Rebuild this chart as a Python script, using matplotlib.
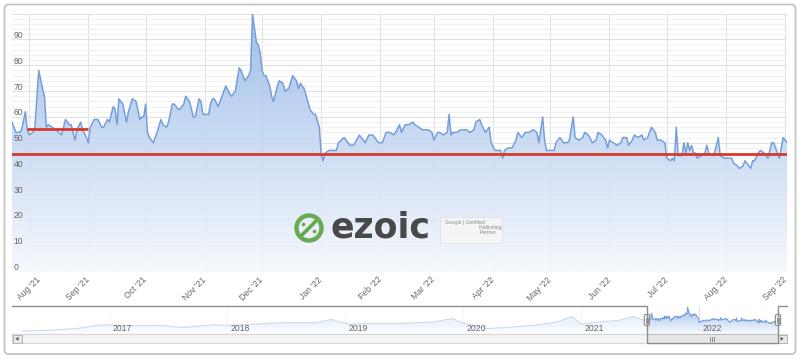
import matplotlib
matplotlib.use("Agg")
import matplotlib.pyplot as plt
import matplotlib.dates as mdates
import matplotlib.transforms as mtransforms
from matplotlib.patches import FancyBboxPatch, Rectangle, Circle, Polygon
from matplotlib.lines import Line2D
import numpy as np
import pandas as pd

# ---------------- data ----------------
dates_2021 = [
    "2021-07-23", "2021-07-25", "2021-07-27", "2021-07-28", "2021-07-30", "2021-07-31",
    "2021-08-01", "2021-08-03", "2021-08-04", "2021-08-06", "2021-08-08", "2021-08-09",
    "2021-08-10", "2021-08-11", "2021-08-13", "2021-08-15", "2021-08-18", "2021-08-20",
    "2021-08-22", "2021-08-23", "2021-08-25", "2021-08-26", "2021-08-28", "2021-08-29",
    "2021-08-31", "2021-09-01", "2021-09-02", "2021-09-04", "2021-09-06", "2021-09-08",
    "2021-09-09", "2021-09-11", "2021-09-12", "2021-09-14", "2021-09-15", "2021-09-16",
    "2021-09-17", "2021-09-19", "2021-09-21", "2021-09-22", "2021-09-24", "2021-09-26",
    "2021-09-28", "2021-09-29", "2021-09-30", "2021-10-01", "2021-10-02", "2021-10-03",
    "2021-10-05", "2021-10-07", "2021-10-09", "2021-10-10", "2021-10-12", "2021-10-13",
    "2021-10-15", "2021-10-16", "2021-10-18", "2021-10-19", "2021-10-21", "2021-10-22",
    "2021-10-24", "2021-10-26", "2021-10-27", "2021-10-29", "2021-10-30", "2021-10-31",
    "2021-11-02", "2021-11-03", "2021-11-04", "2021-11-05", "2021-11-06", "2021-11-08",
    "2021-11-09", "2021-11-12", "2021-11-14", "2021-11-15", "2021-11-17", "2021-11-19",
    "2021-11-20", "2021-11-22", "2021-11-24", "2021-11-25", "2021-11-26", "2021-11-28",
    "2021-11-29", "2021-11-30", "2021-12-01", "2021-12-02", "2021-12-03", "2021-12-05",
    "2021-12-06", "2021-12-07", "2021-12-09", "2021-12-10", "2021-12-12", "2021-12-13",
    "2021-12-15", "2021-12-17", "2021-12-19", "2021-12-20", "2021-12-21", "2021-12-23",
    "2021-12-25", "2021-12-26", "2021-12-28", "2021-12-29", "2021-12-31",
]
values_2021 = [
    58, 54, 54, 55, 62, 55,
    53, 54, 56, 78, 71, 68,
    56, 57, 56, 55, 53, 59,
    57, 57, 51, 55, 58, 55,
    52, 50, 56, 59, 59, 56,
    56, 59, 58, 64, 63, 57,
    67, 65, 58, 62, 67, 66,
    59, 60, 60, 65, 54, 52,
    50, 54, 59, 57, 56, 58,
    65, 65, 63, 63, 65, 68,
    66, 60, 60, 67, 66, 61,
    61, 61, 65, 67, 67, 64,
    66, 72, 69, 68, 70, 79,
    78, 74, 76, 78, 100, 89,
    88, 85, 78, 76, 76, 72,
    68, 66, 72, 74, 73, 70,
    71, 76, 74, 71, 73, 71,
    66, 63, 61, 61, 56,
]
dates_2022 = [
    "2022-01-01", "2022-01-02", "2022-01-03", "2022-01-05", "2022-01-07", "2022-01-09",
    "2022-01-10", "2022-01-13", "2022-01-15", "2022-01-16", "2022-01-18", "2022-01-21",
    "2022-01-22", "2022-01-24", "2022-01-26", "2022-01-28", "2022-01-29", "2022-01-31",
    "2022-02-02", "2022-02-04", "2022-02-06", "2022-02-08", "2022-02-09", "2022-02-11",
    "2022-02-12", "2022-02-14", "2022-02-16", "2022-02-18", "2022-02-19", "2022-02-21",
    "2022-02-23", "2022-02-25", "2022-02-26", "2022-02-28", "2022-03-01", "2022-03-03",
    "2022-03-04", "2022-03-06", "2022-03-08", "2022-03-09", "2022-03-10", "2022-03-11",
    "2022-03-13", "2022-03-15", "2022-03-17", "2022-03-18", "2022-03-20", "2022-03-22",
    "2022-03-23", "2022-03-25", "2022-03-26", "2022-03-28", "2022-03-30", "2022-03-31",
    "2022-04-02", "2022-04-03", "2022-04-05", "2022-04-06", "2022-04-07", "2022-04-09",
    "2022-04-11", "2022-04-13", "2022-04-14", "2022-04-16", "2022-04-18", "2022-04-20",
    "2022-04-22", "2022-04-24", "2022-04-25", "2022-04-27", "2022-04-28", "2022-04-29",
    "2022-05-01", "2022-05-03", "2022-05-04", "2022-05-06", "2022-05-08", "2022-05-10",
    "2022-05-11", "2022-05-13", "2022-05-14", "2022-05-16", "2022-05-18", "2022-05-19",
    "2022-05-21", "2022-05-23", "2022-05-25", "2022-05-26", "2022-05-28", "2022-05-30",
    "2022-05-31", "2022-06-01", "2022-06-03", "2022-06-05", "2022-06-07", "2022-06-08",
    "2022-06-10", "2022-06-11", "2022-06-13", "2022-06-14", "2022-06-16", "2022-06-18",
    "2022-06-19", "2022-06-21", "2022-06-23", "2022-06-25", "2022-06-26", "2022-06-28",
    "2022-06-30", "2022-07-01", "2022-07-03", "2022-07-04", "2022-07-05", "2022-07-06",
    "2022-07-07", "2022-07-09", "2022-07-10", "2022-07-11", "2022-07-12", "2022-07-13",
    "2022-07-14", "2022-07-15", "2022-07-16", "2022-07-17", "2022-07-19", "2022-07-21",
    "2022-07-22", "2022-07-23", "2022-07-25", "2022-07-26", "2022-07-28", "2022-07-29",
    "2022-07-31", "2022-08-02", "2022-08-04", "2022-08-05", "2022-08-07", "2022-08-08",
    "2022-08-10", "2022-08-11", "2022-08-13", "2022-08-14", "2022-08-15", "2022-08-16",
    "2022-08-18", "2022-08-19", "2022-08-21", "2022-08-23", "2022-08-25", "2022-08-26",
    "2022-08-28", "2022-08-29", "2022-08-30", "2022-08-31", "2022-09-02",
]
values_2022 = [
    45, 43, 46, 47, 47, 47,
    50, 52, 50, 49, 49, 53,
    52, 50, 53, 53, 52, 50,
    50, 54, 54, 53, 54, 57,
    54, 57, 57, 58, 57, 56,
    55, 55, 55, 54, 51, 54,
    54, 53, 54, 61, 53, 54,
    54, 55, 55, 55, 54, 55,
    58, 59, 57, 54, 56, 50,
    47, 47, 47, 44, 47, 48,
    48, 51, 54, 52, 54, 54,
    55, 54, 50, 60, 51, 47,
    47, 47, 50, 52, 50, 50,
    51, 60, 52, 51, 52, 54,
    53, 50, 51, 54, 53, 51,
    48, 51, 50, 49, 50, 52,
    52, 49, 51, 53, 52, 53,
    51, 52, 56, 54, 51, 51,
    50, 44, 43, 44, 43, 56,
    45, 45, 50, 46, 50, 47,
    49, 46, 46, 44, 45, 46,
    49, 46, 45, 46, 52, 45,
    44, 44, 44, 42, 41, 40,
    41, 43, 41, 40, 43, 43,
    46, 47, 46, 44, 50, 50,
    46, 44, 48, 52, 50,
]
# longer history shown only in the navigator
hist_dates = [
    "2016-04-05", "2016-07-01", "2016-09-22", "2016-11-23", "2017-01-03", "2017-03-15",
    "2017-06-07", "2017-08-17", "2017-11-17", "2017-12-31", "2018-03-20", "2018-06-21",
    "2018-10-04", "2018-11-20", "2018-12-15", "2019-01-15", "2019-03-08", "2019-06-18",
    "2019-09-28", "2019-11-28", "2019-12-30", "2020-03-14", "2020-05-15", "2020-08-04",
    "2020-10-17", "2020-12-03", "2021-01-02", "2021-02-27", "2021-04-30", "2021-06-10",
    "2021-07-16",
]
hist_values = [
    12, 15, 21, 33, 34, 31,
    33, 25, 35, 33, 37, 43,
    43, 55, 45, 37, 40, 40,
    45, 58, 42, 21, 25, 33,
    45, 66, 37, 45, 52, 66,
    51,
]
overall_average = 45.5
first_month_average = 55.3
first_month_span = ["2021-07-31", "2021-09-01"]
month_ticks = pd.date_range("2021-08-01", "2022-09-01", freq="MS")
year_ticks = pd.date_range("2017-01-01", "2022-01-01", freq="YS")
y_ticks = list(range(0, 100, 10))

# ---------------- figure ----------------
W, H = 800, 360
plt.rcParams["font.family"] = ["Liberation Sans", "DejaVu Sans"]
fig = plt.figure(figsize=(W / 100, H / 100), dpi=100)


def frac(x0, y0, x1, y1):
    return [x0 / W, 1 - y1 / H, (x1 - x0) / W, (y1 - y0) / H]


# background frame
bg = fig.add_axes([0, 0, 1, 1], zorder=0)
bg.set_xlim(0, W)
bg.set_ylim(H, 0)
bg.axis("off")
bg.add_patch(FancyBboxPatch((4.5, 4.5), 791, 349.5,
                            boxstyle="round,pad=0,rounding_size=4",
                            fc="white", ec="#c4c4c4", lw=1.3))

LABEL = "#666666"
c_low = np.array([246, 249, 254]) / 255
c_high = np.array([148, 183, 231]) / 255


def gradient_fill(axis, xs, ys, ymax, alpha):
    poly = axis.fill_between(xs, ys, 0, facecolor="none", edgecolor="none")
    t = np.linspace(0, 1, 256)[:, None, None]
    img = c_low + (c_high - c_low) * t
    im = axis.imshow(img, extent=[xs[0], xs[-1], 0, ymax], origin="lower",
                     aspect="auto", zorder=1, alpha=alpha, interpolation="bilinear")
    im.set_clip_path(poly.get_paths()[0], transform=axis.transData)


# ---------------- main chart ----------------
ax = fig.add_axes(frac(12, 13.7, 787, 271.7), zorder=2)
ax.patch.set_alpha(0)
main_dates = pd.to_datetime(dates_2021 + dates_2022)
main_values = values_2021 + values_2022
mx = mdates.date2num(main_dates)

gradient_fill(ax, mx, main_values, 100, 0.88)
ax.plot(mx, main_values, color="#769fda", lw=1.1, zorder=3)
ax.axhline(overall_average, color="#d8392b", lw=2.0, zorder=4)
span = mdates.date2num(pd.to_datetime(first_month_span))
ax.plot(span, [first_month_average] * 2, color="#d8392b", lw=2.0, zorder=4,
        solid_capstyle="butt")

ax.set_xlim(mx[0], mx[-1])
ax.set_ylim(0, 100)
ax.set_yticks(y_ticks + [100])
ax.set_yticks(np.arange(0, 101, 2), minor=True)
tick_x = mdates.date2num(month_ticks)
ax.set_xticks(tick_x)
ax.grid(which="major", color="#e1e1e1", lw=0.8)
ax.grid(which="minor", axis="y", color="#f1f1f1", lw=0.7)
ax.set_axisbelow(True)
ax.tick_params(axis="both", which="both", length=0, labelleft=False, labelbottom=False)
for s in ax.spines.values():
    s.set_visible(False)

# y labels: inside the plot, just above their grid lines
ylab_tr = mtransforms.offset_copy(ax.get_yaxis_transform(), fig=fig, x=1.5, y=1.6,
                                  units="dots")
for v in y_ticks:
    ax.text(0, v, str(v), transform=ylab_tr, ha="left", va="baseline",
            fontsize=6.2, color=LABEL, zorder=5)

# x labels: rotated, ending at their tick (first one kept inside the chart)
for i, (xv, d) in enumerate(zip(tick_x, month_ticks)):
    shift = 10 if i == 0 else 0
    tr = mtransforms.offset_copy(ax.get_xaxis_transform(), fig=fig, x=shift, y=-6.5,
                                 units="dots")
    ax.text(xv, 0, d.strftime("%b '%y"), transform=tr, rotation=45,
            rotation_mode="anchor", ha="right", va="center", fontsize=6.2,
            color=LABEL, clip_on=False)

# ---------------- navigator ----------------
nav = fig.add_axes(frac(22, 305.7, 778, 334.2), zorder=2)
nav.patch.set_alpha(0)
nav_dates = pd.to_datetime(hist_dates + dates_2021 + dates_2022)
nav_values = hist_values + main_values
nx = mdates.date2num(nav_dates)
gradient_fill(nav, nx, nav_values, 106, 0.9)
nav.plot(nx, nav_values, color="#769fda", lw=0.8, zorder=3)
nav.set_xlim(nx[0], nx[-1])
nav.set_ylim(0, 106)
nav.axis("off")
yx = mdates.date2num(year_ticks)
yr_tr = mtransforms.offset_copy(nav.get_xaxis_transform(), fig=fig, x=3, y=3.2,
                                units="dots")
for xv, d in zip(yx, year_ticks):
    nav.axvline(xv, color="#e4e4e4", lw=0.8, zorder=0.5)
    nav.text(xv, 0, str(d.year), transform=yr_tr, ha="left", va="baseline",
             fontsize=6.2, color=LABEL, zorder=6)
# mask outside the selected range
nav.axvspan(nx[0], mx[0], color="white", alpha=0.62, zorder=5, lw=0)

# ---------------- overlay (scrollbar, handles, watermark) ----------------
ov = fig.add_axes([0, 0, 1, 1], zorder=10)
ov.set_xlim(0, W)
ov.set_ylim(H, 0)
ov.axis("off")
ov.patch.set_alpha(0)
sx0 = nav.transData.transform((mx[0], 0))[0]
sx1 = nav.transData.transform((mx[-1], 0))[0]

ov.add_patch(Rectangle((12, 334.2), 775, 9, fc="#f4f4f4", ec="#d6d6d6", lw=0.8))
ov.add_patch(Rectangle((12.5, 334.7), 9.5, 8.3, fc="#e8e8e8", ec="#b5b5b5", lw=0.7))
ov.add_patch(Polygon([(15.5, 338.8), (18.5, 337.0), (18.5, 340.6)], closed=True,
                     fc="#444444", ec="none"))
ov.add_patch(Rectangle((778, 334.7), 8.5, 8.3, fc="#e8e8e8", ec="#b5b5b5", lw=0.7))
ov.add_patch(Polygon([(783.6, 338.8), (780.6, 337.0), (780.6, 340.6)], closed=True,
                     fc="#444444", ec="none"))
ov.add_patch(Rectangle((sx0, 334.2), sx1 - sx0, 9, fc="#e6e6e6", ec="#bdbdbd", lw=0.7))
cx = (sx0 + sx1) / 2
for dx in (-2, 0, 2):
    ov.add_line(Line2D([cx + dx, cx + dx], [336.6, 340.8], color="#777777", lw=0.6))
ov.add_line(Line2D([12, sx0, sx0, sx1, sx1, 787],
                   [305.7, 305.7, 343.2, 343.2, 305.7, 305.7],
                   color="#8e8e8e", lw=1.0))
for hx in (sx0, sx1):
    ov.add_patch(FancyBboxPatch((hx - 2.6, 314.5), 5.2, 11,
                                boxstyle="round,pad=0,rounding_size=1.3",
                                fc="#f4f4f4", ec="#8e8e8e", lw=0.8))
    for dx in (-0.8, 0.8):
        ov.add_line(Line2D([hx + dx, hx + dx], [317.5, 322.5], color="#777777", lw=0.5))

# watermark
green = "#62a84c"
ov.add_patch(Circle((309, 228), 12.5, fc="none", ec=green, lw=3.2, alpha=0.95))
ov.add_line(Line2D([302.5, 315.5], [234.5, 221.5], color=green, lw=2.6,
                   solid_capstyle="round"))
ov.add_patch(Circle((303.5, 224.5), 1.8, fc=green, ec="none"))
ov.add_patch(Circle((314.5, 231.5), 1.8, fc=green, ec="none"))
ov.text(330, 228, "ezoic", fontsize=25, fontweight="bold", color="#3b3b3b",
        ha="left", va="center", family="DejaVu Sans", alpha=0.92)
ov.add_patch(Rectangle((440, 217), 62, 26, fc="#f7f7f7", ec="#dedede", lw=0.6,
                       alpha=0.85))
ov.text(445, 222.5, "Google | Certified", fontsize=3.6, color="#8a8a8a",
        ha="left", va="center")
ov.text(479, 227.8, "Publishing", fontsize=3.6, color="#8a8a8a", ha="left", va="center")
ov.text(480, 233, "Partner", fontsize=3.6, color="#8a8a8a", ha="left", va="center")

fig.savefig("out.png", dpi=100)
